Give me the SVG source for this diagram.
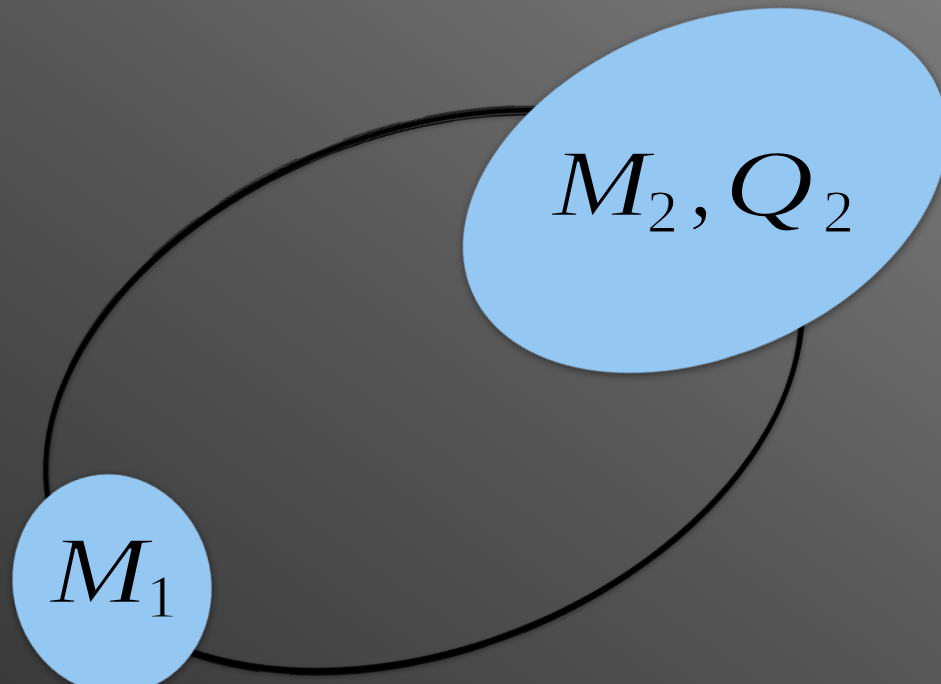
<svg xmlns="http://www.w3.org/2000/svg" width="941" height="684" viewBox="0 0 941 684">
  <defs>
    <linearGradient id="bg" x1="1" y1="0" x2="0" y2="1">
      <stop offset="0" stop-color="#7a7a7a"/>
      <stop offset="0.5" stop-color="#575757"/>
      <stop offset="1" stop-color="#3a3a3a"/>
    </linearGradient>
    <filter id="shadow" x="-20%" y="-20%" width="140%" height="140%">
      <feDropShadow dx="0" dy="2" stdDeviation="4" flood-color="#000" flood-opacity="0.55"/>
    </filter>
    <filter id="lineShadow" x="-10%" y="-10%" width="120%" height="120%">
      <feDropShadow dx="0" dy="2" stdDeviation="2.5" flood-color="#000" flood-opacity="0.35"/>
    </filter>
  </defs>
  <style>
    .blob { fill: #94c7f2; filter: url(#shadow); }
    .orbit { fill: none; stroke: #000; }
    .math { font-family: "Liberation Serif", "DejaVu Serif", serif; fill: #000; font-weight: normal; stroke: #94c7f2; stroke-width: 1.6px; paint-order: normal; }
    .it { font-style: italic; font-size: 96px; }
    .sub { font-size: 62px; stroke-width: 1px; }
    .rm { font-size: 96px; }
  </style>

  <rect width="941" height="684" fill="url(#bg)"/>

  <g id="connectors">
    <g id="orbit" transform="translate(424 390) rotate(-21.6)" filter="url(#lineShadow)">
      <ellipse class="orbit" cx="0" cy="0" rx="394" ry="258" stroke-width="4.6"/>
      <ellipse class="orbit" cx="-1" cy="2" rx="394" ry="259" stroke-width="3" opacity="0.9"/>
      <ellipse class="orbit" cx="1" cy="-1.5" rx="395.5" ry="259.5" stroke-width="1.2" opacity="0.85"/>
      <ellipse class="orbit" cx="-2.5" cy="3" rx="392" ry="257" stroke-width="1.6" opacity="0.8"/>
      <ellipse class="orbit" cx="2" cy="0.5" rx="393.5" ry="256" stroke-width="0.9" opacity="0.8"/>
      <ellipse class="orbit" cx="-3" cy="4" rx="393" ry="258" stroke-width="1.4" opacity="0.75" stroke-dasharray="120 40 200 30"/>
      <ellipse class="orbit" cx="0" cy="-2.5" rx="394.5" ry="260" stroke-width="0.8" opacity="0.7" stroke-dasharray="60 25 90 50"/>
    </g>
  </g>

  <g id="node-m2q2">
    <ellipse class="blob" cx="705" cy="190.5" rx="254" ry="165" transform="rotate(-23.6 705 190.5)"/>
    <text class="math it" x="552" y="216" textLength="98" lengthAdjust="spacingAndGlyphs">M</text>
    <text class="math sub" x="647" y="232">2</text>
    <text class="math rm" x="689" y="216">,</text>
    <text class="math it" x="724" y="216" textLength="90" lengthAdjust="spacingAndGlyphs">Q</text>
    <text class="math sub" x="823" y="232">2</text>
  </g>

  <g id="node-m1">
    <ellipse class="blob" cx="112" cy="584" rx="99" ry="110" transform="rotate(-12 112 584)"/>
    <text class="math it" x="50" y="603" textLength="98" lengthAdjust="spacingAndGlyphs">M</text>
    <text class="math sub" x="146" y="617">1</text>
  </g>
</svg>
